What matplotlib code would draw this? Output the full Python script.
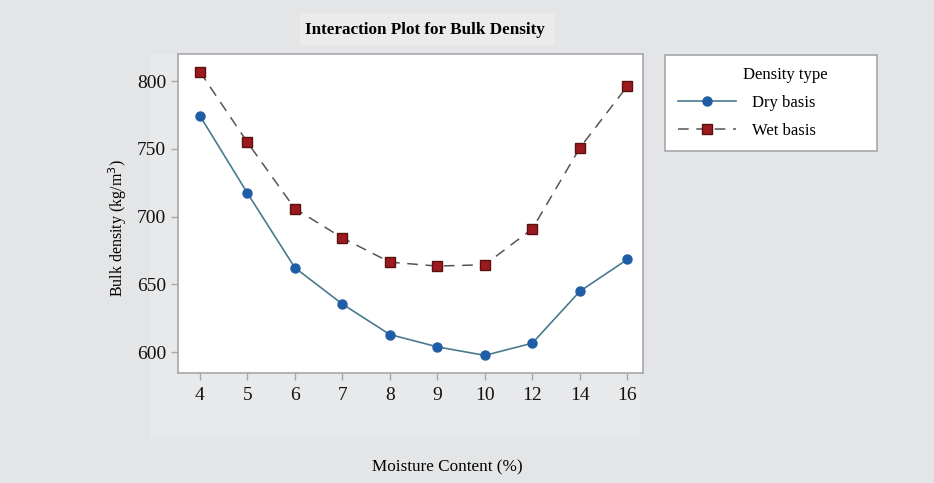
import matplotlib.pyplot as plt
from matplotlib.patches import Rectangle

moisture = ["4", "5", "6", "7", "8", "9", "10", "12", "14", "16"]
dry_basis = [774.5, 717.4, 662.3, 635.5, 613.0, 603.9, 597.6, 606.6, 644.9, 668.4]
wet_basis = [807.0, 754.9, 705.9, 684.3, 666.4, 663.5, 664.5, 691.0, 750.7, 796.3]
y_ticks = [600, 650, 700, 750, 800]

plt.rcParams["font.family"] = ["Liberation Serif", "DejaVu Serif"]

bg = "#e4e5e7"
fig = plt.figure(figsize=(9.34, 4.83), dpi=100, facecolor=bg)

# lighter panels behind the plot area and title
fig.patches.append(Rectangle((150 / 934, 1 - 437 / 483), 490 / 934, 383 / 483,
                             transform=fig.transFigure, facecolor="#e8e9ea",
                             edgecolor="none", zorder=0))
fig.patches.append(Rectangle((300 / 934, 1 - 45 / 483), 255 / 934, 32 / 483,
                             transform=fig.transFigure, facecolor="#ebebec",
                             edgecolor="none", zorder=0))

ax = fig.add_axes([178 / 934, 1 - 373 / 483, 465 / 934, 319 / 483])
ax.set_zorder(2)
ax.set_facecolor("white")

x = range(len(moisture))
ax.plot(x, dry_basis, color="#4b7a8f", linewidth=1.2, marker="o", markersize=6.5,
        markerfacecolor="#1f5ea6", markeredgecolor="#1f5ea6", label="Dry basis")
ax.plot(x, wet_basis, color="#555555", linewidth=1.1, linestyle=(0, (7, 5)),
        marker="s", markersize=7, markerfacecolor="#9c1a1f",
        markeredgecolor="#5a1010", label="Wet basis")

ax.set_xlim(-0.46, 9.33)
ax.set_ylim(584.6, 820)
ax.set_xticks(list(x))
ax.set_xticklabels(moisture)
ax.set_yticks(y_ticks)

for s in ax.spines.values():
    s.set_color("#a5a7aa")
    s.set_linewidth(1.2)
ax.tick_params(colors="#a5a7aa", labelcolor="#111111", labelsize=14,
               length=5, width=1, direction="out")
ax.tick_params(axis="x", pad=5)

fig.text(425 / 934, 1 - 30 / 483, "Interaction Plot for Bulk Density",
         ha="center", va="center", fontsize=12.3, fontweight="bold")
fig.text(118 / 934, 1 - 228 / 483, "Bulk density (kg/m$^3$)", rotation=90,
         ha="center", va="center", fontsize=11.5)
fig.text(447 / 934, 1 - 467 / 483, "Moisture Content (%)",
         ha="center", va="center", fontsize=12.3)

leg = ax.legend(title="Density type", loc="upper left",
                bbox_to_anchor=(665 / 934, 1 - 145 / 483, 212 / 934, 90 / 483),
                bbox_transform=fig.transFigure, mode="expand", borderaxespad=0,
                fontsize=12, title_fontsize=12, frameon=True, fancybox=False,
                framealpha=1, handlelength=3.5, handletextpad=1.0,
                borderpad=0.75, labelspacing=0.7)
leg.get_frame().set_edgecolor("#a5a7aa")
leg.get_frame().set_linewidth(1.2)
leg.get_title().set_position((14, 0))

fig.savefig("out.png", dpi=100, facecolor=bg)
